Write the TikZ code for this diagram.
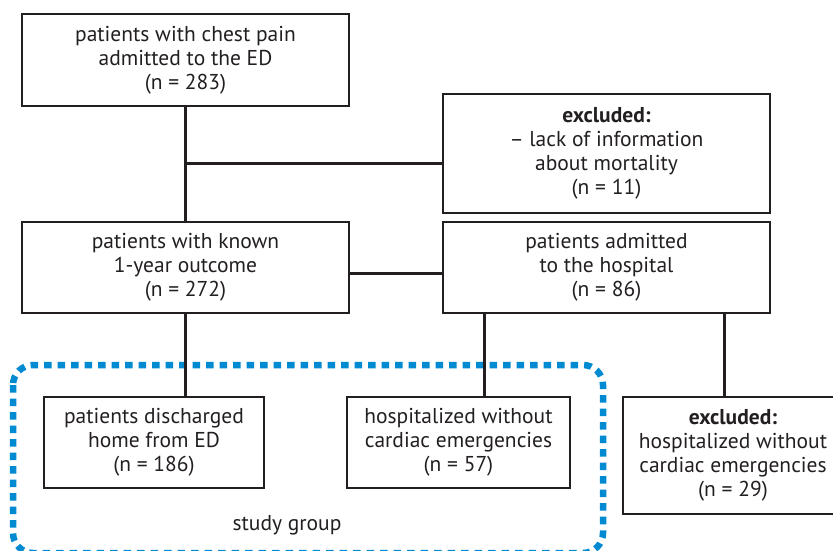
\documentclass[tikz,border=0pt]{standalone}
\usepackage{fontspec}
\setmainfont{PT Sans}
\usepackage{tikz}

\definecolor{ink}{RGB}{35,31,32}
\definecolor{groupblue}{RGB}{0,138,210}

\tikzset{
    box/.style={draw=ink, line width=1.6pt, text=ink, align=center,
        inner sep=0pt, font=\fontsize{21.5}{24}\selectfont,
        execute at begin node={\rule{0pt}{21pt}}},
    link/.style={draw=ink, line width=3pt},
    studygroup/.style={draw=groupblue, line width=6.5pt,
        dash pattern=on 7.5pt off 6pt, rounded corners=20pt},
}

\begin{document}
\begin{tikzpicture}[x=1pt, y=-1pt]

    \useasboundingbox (0,0) rectangle (833,550);

    % study group frame
    \draw[studygroup] (13,365) rectangle (603,553);
    \node[text=ink, font=\fontsize{21.5}{24}\selectfont] (group) at (287,525) {study group};

    % boxes
    \node[box, minimum width=327pt, minimum height=92pt] (ed) at (185.5,60)
        {patients with chest pain\\admitted to the ED\\(n = 283)};
    \node[box, minimum width=327pt, minimum height=119pt] (lost) at (606.5,153.5)
        {\textbf{excluded:}\\– lack of information\\about mortality\\(n = 11)};
    \node[box, minimum width=327pt, minimum height=91pt] (known) at (185.5,267.5)
        {patients with known\\1-year outcome\\(n = 272)};
    \node[box, minimum width=327pt, minimum height=91pt] (admitted) at (606.5,267.5)
        {patients admitted\\to the hospital\\(n = 86)};
    \node[box, minimum width=220pt, minimum height=91pt] (home) at (154,442.5)
        {patients discharged\\home from ED\\(n = 186)};
    \node[box, minimum width=223pt, minimum height=91pt] (noemerg) at (458.5,442.5)
        {hospitalized without\\cardiac emergencies\\(n = 57)};
    \node[box, minimum width=220pt, minimum height=117pt] (dropped) at (733,455.5)
        {\textbf{excluded:}\\hospitalized without\\cardiac emergencies\\(n = 29)};

    % connectors
    \coordinate (split) at (185.5,163);
    \coordinate (left) at (484,313);
    \coordinate (right) at (724,313);

    \draw[link] (ed.south) -- (known.north);
    \draw[link] (split) -- (split -| lost.west);
    \draw[link] ([yshift=-5.5pt]known.east) -- ([yshift=-5.5pt]admitted.west);
    \draw[link] (known.south) -- (known.south |- home.north);
    \draw[link] (left) -- (left |- noemerg.north);
    \draw[link] (right) -- (right |- dropped.north);

\end{tikzpicture}
\end{document}
